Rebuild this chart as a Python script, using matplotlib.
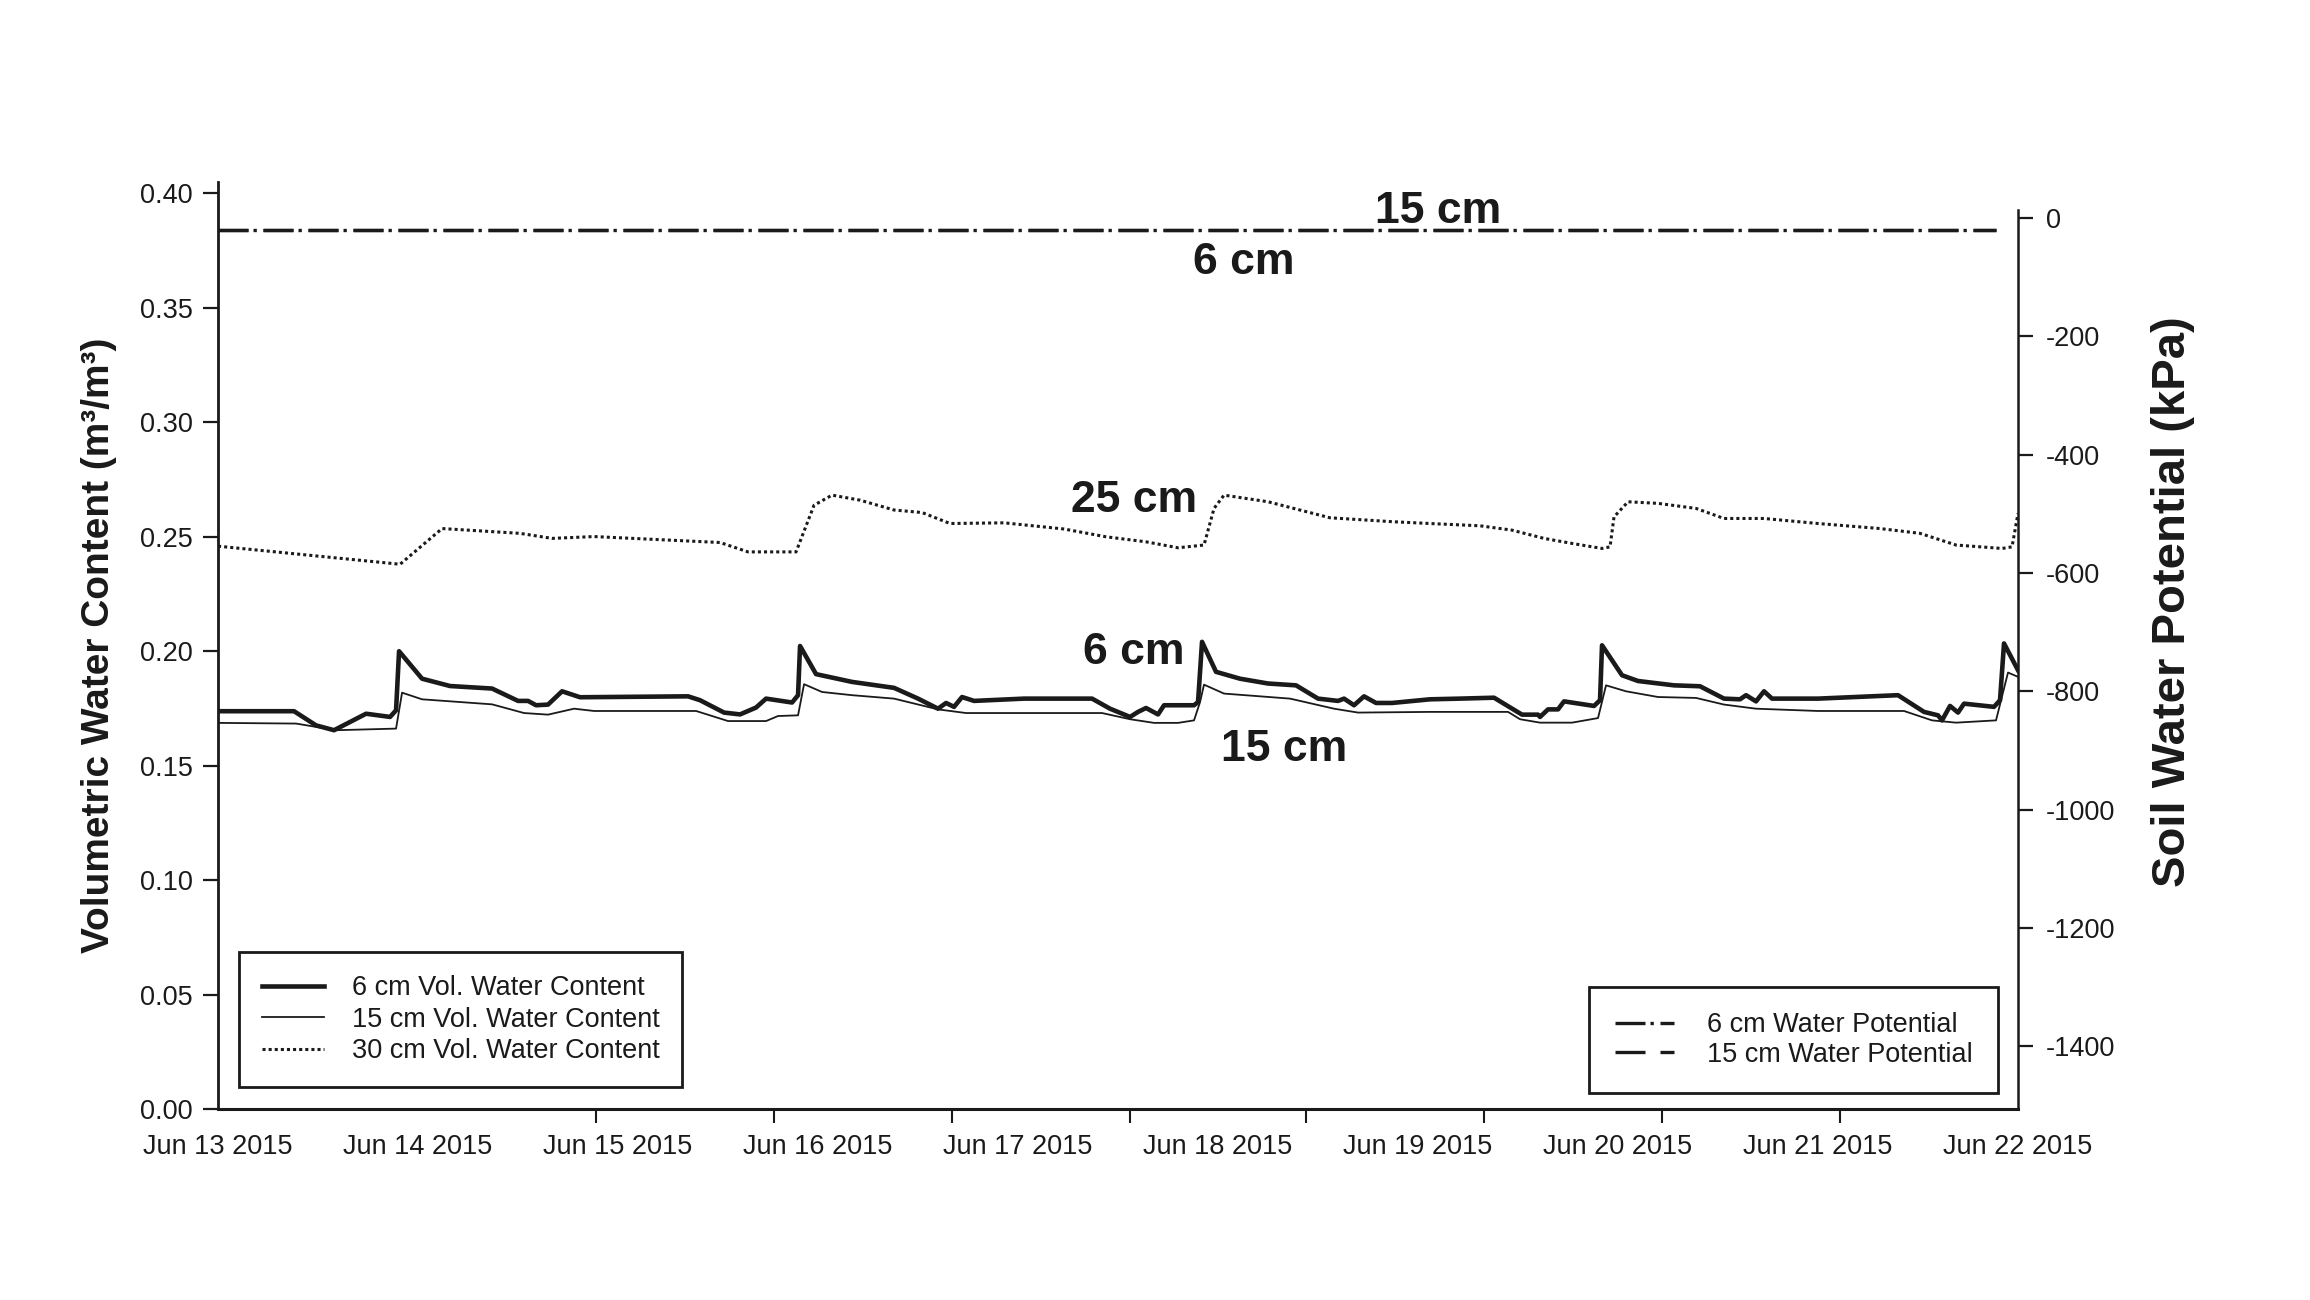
import numpy as np
import matplotlib.pyplot as plt

plt.rcParams['font.family'] = ['Liberation Sans', 'DejaVu Sans']

# days since Jun 13 2015 00:00
date_labels = ['Jun 13 2015', 'Jun 14 2015', 'Jun 15 2015', 'Jun 16 2015', 'Jun 17 2015',
               'Jun 18 2015', 'Jun 19 2015', 'Jun 20 2015', 'Jun 21 2015', 'Jun 22 2015']
label_days = [0, 1, 2, 3, 4, 5, 6, 7, 8, 9]
# tick marks in the original do not sit under the labels
mark_days = [0, 1.0, 1.89, 2.78, 3.67, 4.56, 5.44, 6.33, 7.22, 8.11, 9.0]

# 6 cm volumetric water content
days6 = [0.0, 0.38, 0.49, 0.58, 0.74, 0.86, 0.89, 0.905, 1.02, 1.16, 1.37, 1.50, 1.55, 1.59,
         1.65, 1.72, 1.81, 2.35, 2.41, 2.53, 2.61, 2.69, 2.74, 2.87, 2.90, 2.91, 2.99, 3.17,
         3.38, 3.50, 3.60, 3.64, 3.68, 3.72, 3.78, 4.03, 4.37, 4.46, 4.56, 4.60, 4.64, 4.70,
         4.73, 4.88, 4.90, 4.92, 4.99, 5.11, 5.25, 5.39, 5.50, 5.60, 5.63, 5.68, 5.73, 5.79,
         5.87, 6.06, 6.21, 6.38, 6.52, 6.60, 6.61, 6.65, 6.70, 6.73, 6.88, 6.91, 6.92, 7.02,
         7.10, 7.28, 7.41, 7.53, 7.61, 7.64, 7.69, 7.73, 7.77, 8.00, 8.40, 8.53, 8.60, 8.62,
         8.66, 8.70, 8.73, 8.88, 8.91, 8.93, 9.00]
vwc6 = [0.1738, 0.1738, 0.1676, 0.1655, 0.1727, 0.1713, 0.1742, 0.2000, 0.1880, 0.1848, 0.1837,
        0.1783, 0.1783, 0.1764, 0.1767, 0.1825, 0.1799, 0.1803, 0.1786, 0.1732, 0.1724, 0.1754,
        0.1793, 0.1776, 0.1808, 0.2023, 0.1900, 0.1866, 0.1840, 0.1793, 0.1749, 0.1774, 0.1757,
        0.1800, 0.1783, 0.1793, 0.1793, 0.1749, 0.1713, 0.1735, 0.1752, 0.1724, 0.1764, 0.1764,
        0.1778, 0.2041, 0.1910, 0.1880, 0.1859, 0.1851, 0.1793, 0.1783, 0.1793, 0.1764, 0.1803,
        0.1774, 0.1774, 0.1790, 0.1793, 0.1797, 0.1723, 0.1723, 0.1713, 0.1746, 0.1746, 0.1781,
        0.1761, 0.1786, 0.2026, 0.1895, 0.1870, 0.1851, 0.1847, 0.1793, 0.1790, 0.1808, 0.1781,
        0.1825, 0.1793, 0.1793, 0.1808, 0.1735, 0.1720, 0.1698, 0.1761, 0.1732, 0.1771, 0.1757,
        0.1786, 0.2034, 0.1917]

# 15 cm volumetric water content
days15 = [0.0, 0.39, 0.59, 0.89, 0.92, 1.02, 1.37, 1.53, 1.65, 1.78, 1.88, 2.39, 2.55, 2.74,
          2.80, 2.90, 2.93, 3.02, 3.17, 3.38, 3.60, 3.74, 4.42, 4.56, 4.68, 4.80, 4.88, 4.91,
          4.93, 5.03, 5.36, 5.58, 5.70, 6.06, 6.45, 6.51, 6.61, 6.77, 6.90, 6.94, 7.04, 7.20,
          7.39, 7.53, 7.69, 8.00, 8.43, 8.57, 8.69, 8.89, 8.95, 9.00]
vwc15 = [0.1687, 0.1684, 0.1655, 0.1662, 0.1819, 0.1790, 0.1768, 0.1730, 0.1723, 0.1749, 0.1739,
         0.1739, 0.1695, 0.1695, 0.1717, 0.1720, 0.1856, 0.1822, 0.1808, 0.1793, 0.1746, 0.1730,
         0.1730, 0.1703, 0.1687, 0.1687, 0.1698, 0.1778, 0.1854, 0.1815, 0.1793, 0.1749, 0.1732,
         0.1735, 0.1735, 0.1703, 0.1688, 0.1688, 0.1708, 0.1851, 0.1825, 0.1800, 0.1796, 0.1767,
         0.1749, 0.1739, 0.1739, 0.1698, 0.1688, 0.1698, 0.1907, 0.1888]

# 30 cm volumetric water content
days30 = [0.0, 0.91, 1.12, 1.51, 1.67, 1.88, 2.51, 2.65, 2.89, 2.98, 3.07, 3.21, 3.38, 3.52,
          3.66, 3.93, 4.23, 4.44, 4.64, 4.80, 4.93, 4.98, 5.03, 5.25, 5.56, 5.87, 6.06, 6.31,
          6.47, 6.63, 6.77, 6.92, 6.96, 6.98, 7.05, 7.20, 7.39, 7.53, 7.73, 8.00, 8.31, 8.51,
          8.69, 8.92, 8.97, 9.00]
vwc30 = [0.2459, 0.2380, 0.2536, 0.2515, 0.2493, 0.2501, 0.2475, 0.2434, 0.2434, 0.2638, 0.2682,
         0.2660, 0.2617, 0.2606, 0.2558, 0.2561, 0.2534, 0.2500, 0.2478, 0.2452, 0.2464, 0.2624,
         0.2682, 0.2653, 0.2583, 0.2566, 0.2558, 0.2548, 0.2529, 0.2493, 0.2471, 0.2449, 0.2456,
         0.2587, 0.2653, 0.2646, 0.2624, 0.2580, 0.2580, 0.2558, 0.2536, 0.2515, 0.2464, 0.2449,
         0.2456, 0.2602]

# water potential (kPa), flat near saturation
wp_days = [0.0, 8.89]
wp6 = [-20, -20]
wp15 = [-20, -20]

left_ticks = [0.00, 0.05, 0.10, 0.15, 0.20, 0.25, 0.30, 0.35, 0.40]
right_ticks = [0, -200, -400, -600, -800, -1000, -1200, -1400]

ink = '#1a1a1a'

fig = plt.figure(figsize=(23.1, 13), dpi=100)
ax = fig.add_axes([0.0944, 0.1469, 0.7792, 0.7131])
ax2 = ax.twinx()

ax.plot(days6, vwc6, color=ink, lw=3.3, label='6 cm Vol. Water Content')
ax.plot(days15, vwc15, color=ink, lw=1.3, label='15 cm Vol. Water Content')
ax.plot(days30, vwc30, color=ink, lw=2.2, linestyle=(0, (1, 1)), label='30 cm Vol. Water Content')

# same period for both so the gaps stay open where they overlap
ax2.plot(wp_days, wp6, color=ink, lw=2.4, linestyle=(0, (9, 1.5, 1, 2)), label='6 cm Water Potential')
ax2.plot(wp_days, wp15, color=ink, lw=2.4, linestyle=(0, (9, 4.5)), label='15 cm Water Potential')

ax.set_xlim(0, 9)
ax.set_ylim(0, 0.405)
ax2.set_ylim(-1506, 61)

ax.set_xticks(label_days, date_labels)
ax.set_xticks(mark_days, minor=True)
ax.tick_params(axis='x', which='major', length=0, pad=18, labelsize=19.5, labelcolor=ink)
ax.tick_params(axis='x', which='minor', length=10, width=1.5, color=ink)

ax.set_yticks(left_ticks, ['%.2f' % v for v in left_ticks])
ax.tick_params(axis='y', length=11, width=1.6, pad=7, labelsize=19.5, color=ink, labelcolor=ink)
ax2.set_yticks(right_ticks, [str(v) for v in right_ticks])
ax2.tick_params(axis='y', length=11, width=1.6, pad=9, labelsize=19.5, color=ink, labelcolor=ink)

for s in ['top', 'right']:
    ax.spines[s].set_visible(False)
for s in ['top', 'left', 'bottom']:
    ax2.spines[s].set_visible(False)
ax.spines['left'].set_linewidth(2)
ax.spines['bottom'].set_linewidth(2.2)
ax2.spines['right'].set_linewidth(1.8)
ax2.spines['right'].set_bounds(-1506, 14)
for sp in [ax.spines['left'], ax.spines['bottom'], ax2.spines['right']]:
    sp.set_color(ink)

ax.set_ylabel('Volumetric Water Content (m³/m³)', fontsize=28, fontweight='bold', color=ink)
ax.yaxis.set_label_coords(-0.056, 0.5)
ax2.set_ylabel('Soil Water Potential (kPa)', fontsize=34, fontweight='bold', color=ink)
ax2.yaxis.set_label_coords(1.074, 0.547)

# depth annotations
ax.text(6.10, 0.392, '15 cm', fontsize=32, fontweight='bold', ha='center', va='center', color=ink)
ax.text(5.13, 0.370, '6 cm', fontsize=32, fontweight='bold', ha='center', va='center', color=ink)
ax.text(4.58, 0.266, '25 cm', fontsize=32, fontweight='bold', ha='center', va='center', color=ink)
ax.text(4.58, 0.1996, '6 cm', fontsize=32, fontweight='bold', ha='center', va='center', color=ink)
ax.text(5.33, 0.157, '15 cm', fontsize=32, fontweight='bold', ha='center', va='center', color=ink)

leg1 = ax.legend(loc='lower left', bbox_to_anchor=(0.0117, 0.0237), fontsize=19.5,
                 fancybox=False, framealpha=1, edgecolor=ink, handlelength=2.3,
                 handletextpad=1.0, labelspacing=0.2, borderpad=0.85, borderaxespad=0)
leg1.get_frame().set_linewidth(2)
leg2 = ax2.legend(loc='lower right', bbox_to_anchor=(0.989, 0.017), fontsize=19.5,
                  fancybox=False, framealpha=1, edgecolor=ink, handlelength=2.2,
                  handletextpad=1.2, labelspacing=0.12, borderpad=0.95, borderaxespad=0)
leg2.get_frame().set_linewidth(2)
for t in leg1.get_texts() + leg2.get_texts():
    t.set_color(ink)

fig.savefig('out.png', dpi=100)
